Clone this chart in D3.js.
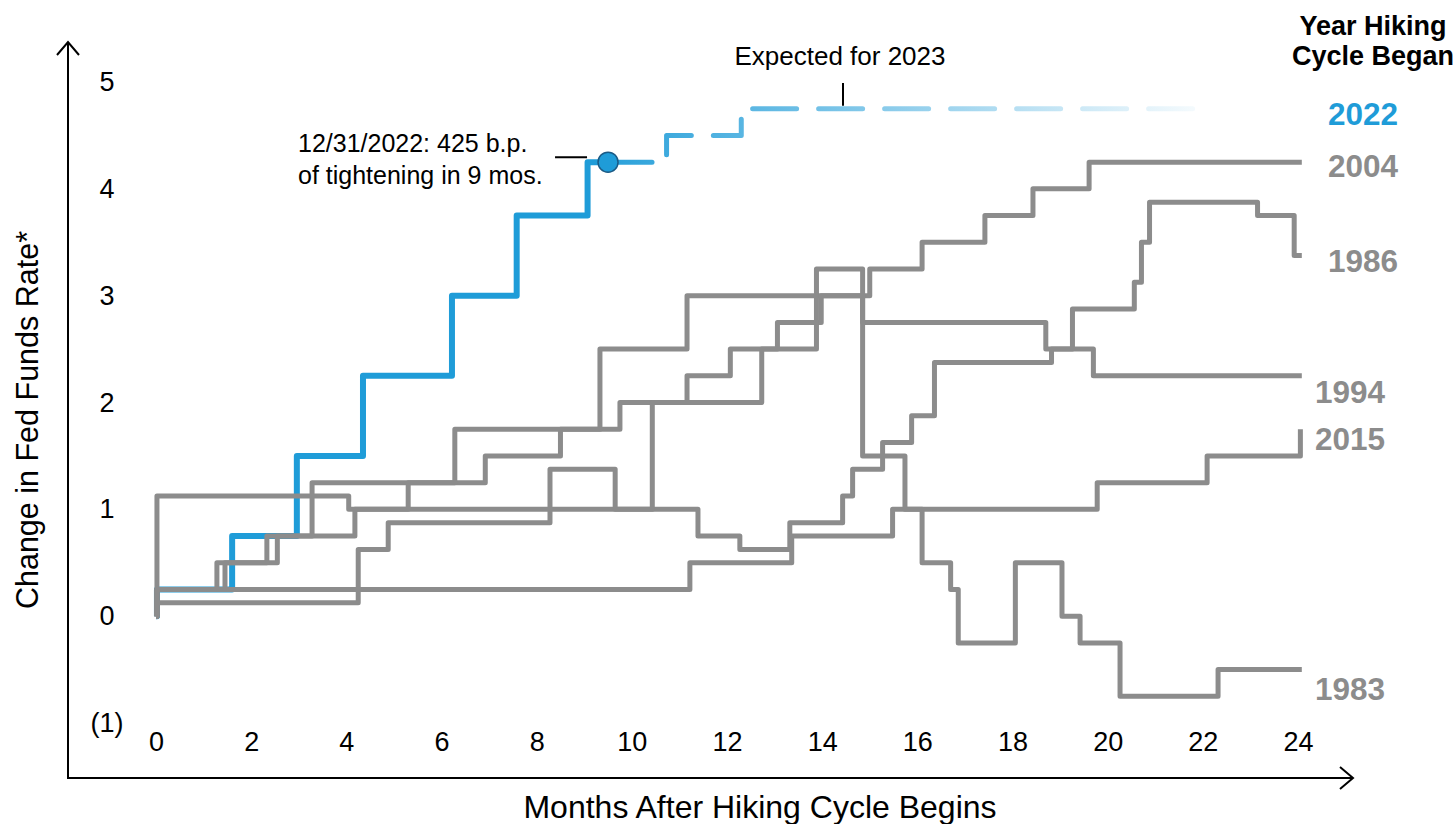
<!DOCTYPE html>
<html>
<head>
<meta charset="utf-8">
<script src="https://cdn.jsdelivr.net/npm/d3@7"></script>
<style>
  html, body { margin: 0; padding: 0; background: #ffffff; }
  svg { display: block; font-family: "Liberation Sans", Arial, Helvetica, sans-serif; }
</style>
</head>
<body>
<svg id="chart" width="1455" height="824"></svg>
<script>
// ---- Axis ticks ----
const monthTicks = [0, 2, 4, 6, 8, 10, 12, 14, 16, 18, 20, 22, 24];
const rateTicks = [-1, 0, 1, 2, 3, 4, 5];
const rateTickLabels = ["(1)", "0", "1", "2", "3", "4", "5"];

// ---- Hiking cycles: [months after first hike, cumulative change in fed funds rate (pp)] ----
const cycle2022 = [[0, 0], [0.02, 0.25], [1.6, 0.75], [2.96, 1.5], [4.35, 2.25], [6.22, 3.0], [7.58, 3.75], [9.07, 4.25], [9.5, 4.25]];
const cycle2022Expected = [[9.5, 4.25], [10.73, 4.5], [12.3, 4.75], [21.95, 4.75]];
const cycle2004 = [[0, 0], [0.02, 0.25], [1.45, 0.5], [2.55, 0.75], [4.18, 1.0], [5.3, 1.25], [6.92, 1.5], [8.5, 1.75], [9.75, 2.0], [11.16, 2.25], [12.07, 2.5], [13.06, 2.75], [13.98, 3.0], [15.0, 3.25], [16.1, 3.5], [17.42, 3.75], [18.43, 4.0], [19.61, 4.25], [24.08, 4.25]];
const cycle1986 = [[0, 0], [0.02, 0.125], [4.25, 0.625], [4.88, 0.875], [8.28, 1.375], [9.65, 1.0], [11.39, 0.75], [12.27, 0.625], [13.32, 0.875], [14.43, 1.125], [14.64, 1.375], [15.27, 1.625], [15.88, 1.875], [16.36, 2.375], [18.82, 2.5], [19.26, 2.875], [20.56, 3.125], [20.71, 3.5], [20.88, 3.875], [23.15, 3.75], [23.92, 3.375], [24.08, 3.375]];
const cycle1994 = [[0, 0], [0.02, 0.25], [1.28, 0.5], [2.33, 0.75], [3.28, 1.25], [6.28, 1.75], [9.33, 2.5], [11.16, 3.0], [14.85, 2.75], [18.7, 2.5], [19.7, 2.25], [24.08, 2.25]];
const cycle2015 = [[0, 0], [0.02, 0.25], [11.22, 0.5], [13.36, 0.75], [15.48, 1.0], [19.78, 1.25], [22.09, 1.5], [24.05, 1.75]];
const cycle1983 = [[0, 0], [0.02, 1.125], [4.05, 1.0], [10.43, 2.0], [12.73, 2.5], [13.88, 3.25], [14.85, 1.5], [15.74, 1.0], [16.1, 0.5], [16.7, 0.25], [16.86, -0.25], [18.06, 0.5], [19.04, 0.0], [19.42, -0.25], [20.26, -0.75], [22.32, -0.5], [24.08, -0.5]];

const historyCycles = [
  { year: "2004", values: cycle2004 },
  { year: "1986", values: cycle1986 },
  { year: "1994", values: cycle1994 },
  { year: "2015", values: cycle2015 },
  { year: "1983", values: cycle1983 }
];

// ---- Styling and layout ----
const BLUE = "#1f9cd8";
const GREY = "#8c8c8c";

const svg = d3.select("#chart");

const x = d3.scaleLinear().domain([0, 24]).range([156, 1298]);
const y = d3.scaleLinear().domain([-1, 5]).range([723, 82]);

const stepLine = d3.line()
  .x(d => x(d[0]))
  .y(d => y(d[1]))
  .curve(d3.curveStepAfter);

// ---- Tick labels (no tick marks, no domain line) ----
const xAxis = d3.axisBottom(x).tickValues(monthTicks).tickSize(0).tickPadding(8)
  .tickFormat(d3.format("d"));
const gx = svg.append("g").attr("transform", "translate(0,724)").call(xAxis);
gx.select(".domain").remove();
gx.selectAll("text").attr("font-size", 27).attr("fill", "#000")
  .attr("font-family", "Liberation Sans, Arial, sans-serif");

const yAxis = d3.axisLeft(y).tickValues(rateTicks).tickSize(0).tickPadding(0)
  .tickFormat((d, i) => rateTickLabels[i]);
const gy = svg.append("g").attr("transform", "translate(107,0)").call(yAxis);
gy.select(".domain").remove();
gy.selectAll("text").attr("font-size", 27).attr("fill", "#000")
  .attr("text-anchor", "middle").attr("x", 0)
  .attr("font-family", "Liberation Sans, Arial, sans-serif");

// ---- Axis lines with open arrowheads ----
const axisG = svg.append("g").attr("stroke", "#000").attr("stroke-width", 2).attr("fill", "none");
axisG.append("path").attr("d", "M68,778 L68,42");
axisG.append("path").attr("d", "M57,55 L68,42 L79,55");
axisG.append("path").attr("d", "M67,778 L1353,778");
axisG.append("path").attr("d", "M1340,767 L1353,778 L1340,789");

// ---- Axis titles ----
svg.append("text")
  .attr("transform", "translate(38,420) rotate(-90)")
  .attr("text-anchor", "middle")
  .attr("font-size", 30.5)
  .attr("fill", "#000")
  .text("Change in Fed Funds Rate*");

svg.append("text")
  .attr("x", 760).attr("y", 818)
  .attr("text-anchor", "middle")
  .attr("font-size", 32)
  .attr("fill", "#000")
  .text("Months After Hiking Cycle Begins");

// ---- Expected path for 2023 (dashed, fading to the right) ----
const defs = svg.append("defs");
const grad = defs.append("linearGradient")
  .attr("id", "fadeBlue")
  .attr("gradientUnits", "userSpaceOnUse")
  .attr("x1", x(cycle2022Expected[0][0])).attr("y1", 0)
  .attr("x2", x(cycle2022Expected[cycle2022Expected.length - 1][0])).attr("y2", 0);
grad.append("stop").attr("offset", 0).attr("stop-color", BLUE).attr("stop-opacity", 0.95);
grad.append("stop").attr("offset", 1).attr("stop-color", BLUE).attr("stop-opacity", 0.04);

svg.append("path")
  .datum(cycle2022Expected)
  .attr("d", stepLine)
  .attr("fill", "none")
  .attr("stroke", "url(#fadeBlue)")
  .attr("stroke-width", 5)
  .attr("stroke-linecap", "round")
  .attr("stroke-linejoin", "round")
  .attr("stroke-dasharray", "44 22");

// ---- 2022 cycle (solid blue) ----
svg.append("path")
  .datum(cycle2022)
  .attr("d", stepLine)
  .attr("fill", "none")
  .attr("stroke", BLUE)
  .attr("stroke-width", 6)
  .attr("stroke-linejoin", "round");

// ---- Earlier cycles (grey) ----
svg.append("g").selectAll("path")
  .data(historyCycles)
  .join("path")
  .attr("d", d => stepLine(d.values))
  .attr("fill", "none")
  .attr("stroke", GREY)
  .attr("stroke-width", 5)
  .attr("stroke-linejoin", "round");

// ---- Year-end 2022 marker and annotations ----
const last2022 = cycle2022[cycle2022.length - 1];
const dotX = x(last2022[0]), dotY = y(last2022[1]);

svg.append("line")
  .attr("x1", dotX - 53).attr("x2", dotX - 21)
  .attr("y1", dotY - 5).attr("y2", dotY - 5)
  .attr("stroke", "#000").attr("stroke-width", 2);

svg.append("circle")
  .attr("cx", dotX).attr("cy", dotY).attr("r", 10)
  .attr("fill", BLUE).attr("stroke", "#1a5a85").attr("stroke-width", 1.5);

const note = svg.append("text").attr("font-size", 25).attr("fill", "#000");
note.append("tspan").attr("x", 298).attr("y", 152).text("12/31/2022: " + Math.round(last2022[1] * 100) + " b.p.");
note.append("tspan").attr("x", 298).attr("y", 184).text("of tightening in 9 mos.");

const expLevel = cycle2022Expected[cycle2022Expected.length - 1][1];
svg.append("line")
  .attr("x1", 843).attr("x2", 843)
  .attr("y1", 83).attr("y2", y(expLevel) - 3)
  .attr("stroke", "#000").attr("stroke-width", 2);

svg.append("text")
  .attr("x", 840).attr("y", 65)
  .attr("text-anchor", "middle")
  .attr("font-size", 26)
  .attr("fill", "#000")
  .text("Expected for 2023");

// ---- Legend header and year labels ----
const header = svg.append("text")
  .attr("text-anchor", "middle")
  .attr("font-size", 27)
  .attr("font-weight", "bold")
  .attr("fill", "#000");
header.append("tspan").attr("x", 1373).attr("y", 35).text("Year Hiking");
header.append("tspan").attr("x", 1373).attr("y", 65).text("Cycle Began");

const yearLabels = [
  { year: "2022", color: BLUE, lx: 1328, ly: 125 },
  { year: "2004", color: GREY, lx: 1328, ly: 177 },
  { year: "1986", color: GREY, lx: 1328, ly: 272 },
  { year: "1994", color: GREY, lx: 1315, ly: 403 },
  { year: "2015", color: GREY, lx: 1315, ly: 450 },
  { year: "1983", color: GREY, lx: 1315, ly: 700 }
];

svg.append("g").selectAll("text")
  .data(yearLabels)
  .join("text")
  .attr("x", d => d.lx)
  .attr("y", d => d.ly)
  .attr("font-size", 31.5)
  .attr("font-weight", "bold")
  .attr("fill", d => d.color)
  .text(d => d.year);
</script>
</body>
</html>
